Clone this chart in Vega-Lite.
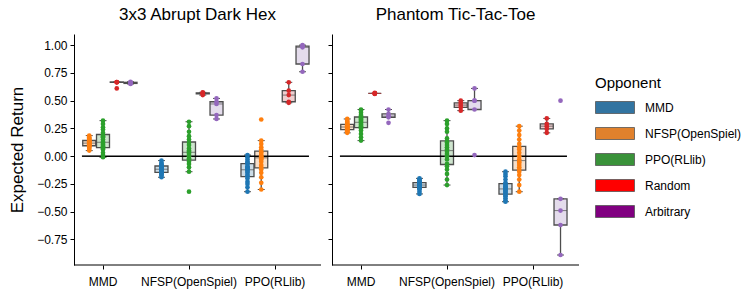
{
  "$schema": "https://vega.github.io/schema/vega-lite/v6.json",
  "padding": {"left": 8, "top": 6, "right": 5, "bottom": 5},
  "background": "white",
  "spacing": -5,
  "config": {
    "font": "Liberation Sans",
    "view": {"stroke": null},
    "axis": {"labelFont": "Liberation Sans", "labelFontSize": 12, "labelColor": "#000", "titleFont": "Liberation Sans", "titleColor": "#000", "titleFontWeight": "normal", "domainColor": "#000", "tickColor": "#000", "grid": false},
    "title": {"font": "Liberation Sans", "fontSize": 17, "fontWeight": "normal", "color": "#000", "baseline": "alphabetic", "offset": 10},
    "legend": {"titleFont": "Liberation Sans", "titleFontSize": 15, "titleFontWeight": "normal", "titleColor": "#000", "labelFont": "Liberation Sans", "labelFontSize": 12, "labelColor": "#000"}
  },
  "datasets": {
    "dh": [
      {"a":"MMD","o":"NFSP(OpenSpiel)","v":0.185},{"a":"MMD","o":"NFSP(OpenSpiel)","v":0.17},{"a":"MMD","o":"NFSP(OpenSpiel)","v":0.16},{"a":"MMD","o":"NFSP(OpenSpiel)","v":0.155},{"a":"MMD","o":"NFSP(OpenSpiel)","v":0.145},{"a":"MMD","o":"NFSP(OpenSpiel)","v":0.14},{"a":"MMD","o":"NFSP(OpenSpiel)","v":0.135},{"a":"MMD","o":"NFSP(OpenSpiel)","v":0.13},{"a":"MMD","o":"NFSP(OpenSpiel)","v":0.125},{"a":"MMD","o":"NFSP(OpenSpiel)","v":0.12},{"a":"MMD","o":"NFSP(OpenSpiel)","v":0.115},{"a":"MMD","o":"NFSP(OpenSpiel)","v":0.11},{"a":"MMD","o":"NFSP(OpenSpiel)","v":0.105},{"a":"MMD","o":"NFSP(OpenSpiel)","v":0.1},{"a":"MMD","o":"NFSP(OpenSpiel)","v":0.095},{"a":"MMD","o":"NFSP(OpenSpiel)","v":0.09},{"a":"MMD","o":"NFSP(OpenSpiel)","v":0.085},{"a":"MMD","o":"NFSP(OpenSpiel)","v":0.075},{"a":"MMD","o":"NFSP(OpenSpiel)","v":0.065},{"a":"MMD","o":"NFSP(OpenSpiel)","v":0.05},
      {"a":"MMD","o":"PPO(RLlib)","v":0.32},{"a":"MMD","o":"PPO(RLlib)","v":0.29},{"a":"MMD","o":"PPO(RLlib)","v":0.26},{"a":"MMD","o":"PPO(RLlib)","v":0.24},{"a":"MMD","o":"PPO(RLlib)","v":0.21},{"a":"MMD","o":"PPO(RLlib)","v":0.19},{"a":"MMD","o":"PPO(RLlib)","v":0.18},{"a":"MMD","o":"PPO(RLlib)","v":0.17},{"a":"MMD","o":"PPO(RLlib)","v":0.15},{"a":"MMD","o":"PPO(RLlib)","v":0.13},{"a":"MMD","o":"PPO(RLlib)","v":0.12},{"a":"MMD","o":"PPO(RLlib)","v":0.11},{"a":"MMD","o":"PPO(RLlib)","v":0.1},{"a":"MMD","o":"PPO(RLlib)","v":0.09},{"a":"MMD","o":"PPO(RLlib)","v":0.08},{"a":"MMD","o":"PPO(RLlib)","v":0.07},{"a":"MMD","o":"PPO(RLlib)","v":0.06},{"a":"MMD","o":"PPO(RLlib)","v":0.03},{"a":"MMD","o":"PPO(RLlib)","v":0.01},{"a":"MMD","o":"PPO(RLlib)","v":-0.01},
      {"a":"MMD","o":"Random","v":0.668},{"a":"MMD","o":"Random","v":0.668},{"a":"MMD","o":"Random","v":0.665},{"a":"MMD","o":"Random","v":0.665},{"a":"MMD","o":"Random","v":0.61},
      {"a":"MMD","o":"Arbitrary","v":0.67},{"a":"MMD","o":"Arbitrary","v":0.665},{"a":"MMD","o":"Arbitrary","v":0.66},{"a":"MMD","o":"Arbitrary","v":0.655},{"a":"MMD","o":"Arbitrary","v":0.65},
      {"a":"NFSP(OpenSpiel)","o":"MMD","v":-0.04},{"a":"NFSP(OpenSpiel)","o":"MMD","v":-0.06},{"a":"NFSP(OpenSpiel)","o":"MMD","v":-0.07},{"a":"NFSP(OpenSpiel)","o":"MMD","v":-0.08},{"a":"NFSP(OpenSpiel)","o":"MMD","v":-0.085},{"a":"NFSP(OpenSpiel)","o":"MMD","v":-0.09},{"a":"NFSP(OpenSpiel)","o":"MMD","v":-0.1},{"a":"NFSP(OpenSpiel)","o":"MMD","v":-0.105},{"a":"NFSP(OpenSpiel)","o":"MMD","v":-0.11},{"a":"NFSP(OpenSpiel)","o":"MMD","v":-0.115},{"a":"NFSP(OpenSpiel)","o":"MMD","v":-0.12},{"a":"NFSP(OpenSpiel)","o":"MMD","v":-0.125},{"a":"NFSP(OpenSpiel)","o":"MMD","v":-0.13},{"a":"NFSP(OpenSpiel)","o":"MMD","v":-0.14},{"a":"NFSP(OpenSpiel)","o":"MMD","v":-0.145},{"a":"NFSP(OpenSpiel)","o":"MMD","v":-0.15},{"a":"NFSP(OpenSpiel)","o":"MMD","v":-0.155},{"a":"NFSP(OpenSpiel)","o":"MMD","v":-0.165},{"a":"NFSP(OpenSpiel)","o":"MMD","v":-0.175},{"a":"NFSP(OpenSpiel)","o":"MMD","v":-0.19},
      {"a":"NFSP(OpenSpiel)","o":"PPO(RLlib)","v":0.31},{"a":"NFSP(OpenSpiel)","o":"PPO(RLlib)","v":0.27},{"a":"NFSP(OpenSpiel)","o":"PPO(RLlib)","v":0.22},{"a":"NFSP(OpenSpiel)","o":"PPO(RLlib)","v":0.18},{"a":"NFSP(OpenSpiel)","o":"PPO(RLlib)","v":0.15},{"a":"NFSP(OpenSpiel)","o":"PPO(RLlib)","v":0.12},{"a":"NFSP(OpenSpiel)","o":"PPO(RLlib)","v":0.1},{"a":"NFSP(OpenSpiel)","o":"PPO(RLlib)","v":0.07},{"a":"NFSP(OpenSpiel)","o":"PPO(RLlib)","v":0.05},{"a":"NFSP(OpenSpiel)","o":"PPO(RLlib)","v":0.04},{"a":"NFSP(OpenSpiel)","o":"PPO(RLlib)","v":0.03},{"a":"NFSP(OpenSpiel)","o":"PPO(RLlib)","v":0.02},{"a":"NFSP(OpenSpiel)","o":"PPO(RLlib)","v":0.0},{"a":"NFSP(OpenSpiel)","o":"PPO(RLlib)","v":-0.02},{"a":"NFSP(OpenSpiel)","o":"PPO(RLlib)","v":-0.03},{"a":"NFSP(OpenSpiel)","o":"PPO(RLlib)","v":-0.05},{"a":"NFSP(OpenSpiel)","o":"PPO(RLlib)","v":-0.07},{"a":"NFSP(OpenSpiel)","o":"PPO(RLlib)","v":-0.1},{"a":"NFSP(OpenSpiel)","o":"PPO(RLlib)","v":-0.14},{"a":"NFSP(OpenSpiel)","o":"PPO(RLlib)","v":-0.32},
      {"a":"NFSP(OpenSpiel)","o":"Random","v":0.575},{"a":"NFSP(OpenSpiel)","o":"Random","v":0.57},{"a":"NFSP(OpenSpiel)","o":"Random","v":0.565},{"a":"NFSP(OpenSpiel)","o":"Random","v":0.56},{"a":"NFSP(OpenSpiel)","o":"Random","v":0.55},
      {"a":"NFSP(OpenSpiel)","o":"Arbitrary","v":0.52},{"a":"NFSP(OpenSpiel)","o":"Arbitrary","v":0.49},{"a":"NFSP(OpenSpiel)","o":"Arbitrary","v":0.47},{"a":"NFSP(OpenSpiel)","o":"Arbitrary","v":0.37},{"a":"NFSP(OpenSpiel)","o":"Arbitrary","v":0.335},
      {"a":"PPO(RLlib)","o":"MMD","v":0.01},{"a":"PPO(RLlib)","o":"MMD","v":-0.01},{"a":"PPO(RLlib)","o":"MMD","v":-0.03},{"a":"PPO(RLlib)","o":"MMD","v":-0.05},{"a":"PPO(RLlib)","o":"MMD","v":-0.06},{"a":"PPO(RLlib)","o":"MMD","v":-0.07},{"a":"PPO(RLlib)","o":"MMD","v":-0.09},{"a":"PPO(RLlib)","o":"MMD","v":-0.1},{"a":"PPO(RLlib)","o":"MMD","v":-0.11},{"a":"PPO(RLlib)","o":"MMD","v":-0.12},{"a":"PPO(RLlib)","o":"MMD","v":-0.125},{"a":"PPO(RLlib)","o":"MMD","v":-0.14},{"a":"PPO(RLlib)","o":"MMD","v":-0.15},{"a":"PPO(RLlib)","o":"MMD","v":-0.17},{"a":"PPO(RLlib)","o":"MMD","v":-0.18},{"a":"PPO(RLlib)","o":"MMD","v":-0.2},{"a":"PPO(RLlib)","o":"MMD","v":-0.23},{"a":"PPO(RLlib)","o":"MMD","v":-0.25},{"a":"PPO(RLlib)","o":"MMD","v":-0.28},{"a":"PPO(RLlib)","o":"MMD","v":-0.32},
      {"a":"PPO(RLlib)","o":"NFSP(OpenSpiel)","v":0.33},{"a":"PPO(RLlib)","o":"NFSP(OpenSpiel)","v":0.14},{"a":"PPO(RLlib)","o":"NFSP(OpenSpiel)","v":0.11},{"a":"PPO(RLlib)","o":"NFSP(OpenSpiel)","v":0.08},{"a":"PPO(RLlib)","o":"NFSP(OpenSpiel)","v":0.06},{"a":"PPO(RLlib)","o":"NFSP(OpenSpiel)","v":0.04},{"a":"PPO(RLlib)","o":"NFSP(OpenSpiel)","v":0.03},{"a":"PPO(RLlib)","o":"NFSP(OpenSpiel)","v":0.01},{"a":"PPO(RLlib)","o":"NFSP(OpenSpiel)","v":0.0},{"a":"PPO(RLlib)","o":"NFSP(OpenSpiel)","v":-0.01},{"a":"PPO(RLlib)","o":"NFSP(OpenSpiel)","v":-0.02},{"a":"PPO(RLlib)","o":"NFSP(OpenSpiel)","v":-0.03},{"a":"PPO(RLlib)","o":"NFSP(OpenSpiel)","v":-0.05},{"a":"PPO(RLlib)","o":"NFSP(OpenSpiel)","v":-0.08},{"a":"PPO(RLlib)","o":"NFSP(OpenSpiel)","v":-0.1},{"a":"PPO(RLlib)","o":"NFSP(OpenSpiel)","v":-0.12},{"a":"PPO(RLlib)","o":"NFSP(OpenSpiel)","v":-0.15},{"a":"PPO(RLlib)","o":"NFSP(OpenSpiel)","v":-0.19},{"a":"PPO(RLlib)","o":"NFSP(OpenSpiel)","v":-0.24},{"a":"PPO(RLlib)","o":"NFSP(OpenSpiel)","v":-0.3},
      {"a":"PPO(RLlib)","o":"Random","v":0.665},{"a":"PPO(RLlib)","o":"Random","v":0.59},{"a":"PPO(RLlib)","o":"Random","v":0.55},{"a":"PPO(RLlib)","o":"Random","v":0.49},{"a":"PPO(RLlib)","o":"Random","v":0.48},
      {"a":"PPO(RLlib)","o":"Arbitrary","v":1.0},{"a":"PPO(RLlib)","o":"Arbitrary","v":0.99},{"a":"PPO(RLlib)","o":"Arbitrary","v":0.98},{"a":"PPO(RLlib)","o":"Arbitrary","v":0.83},{"a":"PPO(RLlib)","o":"Arbitrary","v":0.76}
    ],
    "pt": [
      {"a":"MMD","o":"NFSP(OpenSpiel)","v":0.335},{"a":"MMD","o":"NFSP(OpenSpiel)","v":0.32},{"a":"MMD","o":"NFSP(OpenSpiel)","v":0.31},{"a":"MMD","o":"NFSP(OpenSpiel)","v":0.3},{"a":"MMD","o":"NFSP(OpenSpiel)","v":0.29},{"a":"MMD","o":"NFSP(OpenSpiel)","v":0.285},{"a":"MMD","o":"NFSP(OpenSpiel)","v":0.28},{"a":"MMD","o":"NFSP(OpenSpiel)","v":0.275},{"a":"MMD","o":"NFSP(OpenSpiel)","v":0.27},{"a":"MMD","o":"NFSP(OpenSpiel)","v":0.265},{"a":"MMD","o":"NFSP(OpenSpiel)","v":0.26},{"a":"MMD","o":"NFSP(OpenSpiel)","v":0.255},{"a":"MMD","o":"NFSP(OpenSpiel)","v":0.25},{"a":"MMD","o":"NFSP(OpenSpiel)","v":0.245},{"a":"MMD","o":"NFSP(OpenSpiel)","v":0.24},{"a":"MMD","o":"NFSP(OpenSpiel)","v":0.235},{"a":"MMD","o":"NFSP(OpenSpiel)","v":0.23},{"a":"MMD","o":"NFSP(OpenSpiel)","v":0.225},{"a":"MMD","o":"NFSP(OpenSpiel)","v":0.22},{"a":"MMD","o":"NFSP(OpenSpiel)","v":0.21},
      {"a":"MMD","o":"PPO(RLlib)","v":0.42},{"a":"MMD","o":"PPO(RLlib)","v":0.41},{"a":"MMD","o":"PPO(RLlib)","v":0.39},{"a":"MMD","o":"PPO(RLlib)","v":0.37},{"a":"MMD","o":"PPO(RLlib)","v":0.36},{"a":"MMD","o":"PPO(RLlib)","v":0.35},{"a":"MMD","o":"PPO(RLlib)","v":0.34},{"a":"MMD","o":"PPO(RLlib)","v":0.33},{"a":"MMD","o":"PPO(RLlib)","v":0.32},{"a":"MMD","o":"PPO(RLlib)","v":0.31},{"a":"MMD","o":"PPO(RLlib)","v":0.3},{"a":"MMD","o":"PPO(RLlib)","v":0.29},{"a":"MMD","o":"PPO(RLlib)","v":0.28},{"a":"MMD","o":"PPO(RLlib)","v":0.27},{"a":"MMD","o":"PPO(RLlib)","v":0.26},{"a":"MMD","o":"PPO(RLlib)","v":0.25},{"a":"MMD","o":"PPO(RLlib)","v":0.23},{"a":"MMD","o":"PPO(RLlib)","v":0.2},{"a":"MMD","o":"PPO(RLlib)","v":0.17},{"a":"MMD","o":"PPO(RLlib)","v":0.14},
      {"a":"MMD","o":"Random","v":0.57},{"a":"MMD","o":"Random","v":0.565},{"a":"MMD","o":"Random","v":0.565},{"a":"MMD","o":"Random","v":0.565},{"a":"MMD","o":"Random","v":0.56},
      {"a":"MMD","o":"Arbitrary","v":0.42},{"a":"MMD","o":"Arbitrary","v":0.38},{"a":"MMD","o":"Arbitrary","v":0.36},{"a":"MMD","o":"Arbitrary","v":0.35},{"a":"MMD","o":"Arbitrary","v":0.3},
      {"a":"NFSP(OpenSpiel)","o":"MMD","v":-0.2},{"a":"NFSP(OpenSpiel)","o":"MMD","v":-0.21},{"a":"NFSP(OpenSpiel)","o":"MMD","v":-0.22},{"a":"NFSP(OpenSpiel)","o":"MMD","v":-0.23},{"a":"NFSP(OpenSpiel)","o":"MMD","v":-0.235},{"a":"NFSP(OpenSpiel)","o":"MMD","v":-0.24},{"a":"NFSP(OpenSpiel)","o":"MMD","v":-0.245},{"a":"NFSP(OpenSpiel)","o":"MMD","v":-0.25},{"a":"NFSP(OpenSpiel)","o":"MMD","v":-0.255},{"a":"NFSP(OpenSpiel)","o":"MMD","v":-0.26},{"a":"NFSP(OpenSpiel)","o":"MMD","v":-0.26},{"a":"NFSP(OpenSpiel)","o":"MMD","v":-0.265},{"a":"NFSP(OpenSpiel)","o":"MMD","v":-0.27},{"a":"NFSP(OpenSpiel)","o":"MMD","v":-0.275},{"a":"NFSP(OpenSpiel)","o":"MMD","v":-0.28},{"a":"NFSP(OpenSpiel)","o":"MMD","v":-0.285},{"a":"NFSP(OpenSpiel)","o":"MMD","v":-0.29},{"a":"NFSP(OpenSpiel)","o":"MMD","v":-0.3},{"a":"NFSP(OpenSpiel)","o":"MMD","v":-0.32},{"a":"NFSP(OpenSpiel)","o":"MMD","v":-0.34},
      {"a":"NFSP(OpenSpiel)","o":"PPO(RLlib)","v":0.32},{"a":"NFSP(OpenSpiel)","o":"PPO(RLlib)","v":0.29},{"a":"NFSP(OpenSpiel)","o":"PPO(RLlib)","v":0.25},{"a":"NFSP(OpenSpiel)","o":"PPO(RLlib)","v":0.22},{"a":"NFSP(OpenSpiel)","o":"PPO(RLlib)","v":0.16},{"a":"NFSP(OpenSpiel)","o":"PPO(RLlib)","v":0.13},{"a":"NFSP(OpenSpiel)","o":"PPO(RLlib)","v":0.12},{"a":"NFSP(OpenSpiel)","o":"PPO(RLlib)","v":0.1},{"a":"NFSP(OpenSpiel)","o":"PPO(RLlib)","v":0.08},{"a":"NFSP(OpenSpiel)","o":"PPO(RLlib)","v":0.06},{"a":"NFSP(OpenSpiel)","o":"PPO(RLlib)","v":0.04},{"a":"NFSP(OpenSpiel)","o":"PPO(RLlib)","v":0.02},{"a":"NFSP(OpenSpiel)","o":"PPO(RLlib)","v":0.0},{"a":"NFSP(OpenSpiel)","o":"PPO(RLlib)","v":-0.03},{"a":"NFSP(OpenSpiel)","o":"PPO(RLlib)","v":-0.07},{"a":"NFSP(OpenSpiel)","o":"PPO(RLlib)","v":-0.09},{"a":"NFSP(OpenSpiel)","o":"PPO(RLlib)","v":-0.12},{"a":"NFSP(OpenSpiel)","o":"PPO(RLlib)","v":-0.16},{"a":"NFSP(OpenSpiel)","o":"PPO(RLlib)","v":-0.21},{"a":"NFSP(OpenSpiel)","o":"PPO(RLlib)","v":-0.26},
      {"a":"NFSP(OpenSpiel)","o":"Random","v":0.5},{"a":"NFSP(OpenSpiel)","o":"Random","v":0.48},{"a":"NFSP(OpenSpiel)","o":"Random","v":0.46},{"a":"NFSP(OpenSpiel)","o":"Random","v":0.44},{"a":"NFSP(OpenSpiel)","o":"Random","v":0.41},
      {"a":"NFSP(OpenSpiel)","o":"Arbitrary","v":0.61},{"a":"NFSP(OpenSpiel)","o":"Arbitrary","v":0.5},{"a":"NFSP(OpenSpiel)","o":"Arbitrary","v":0.5},{"a":"NFSP(OpenSpiel)","o":"Arbitrary","v":0.42},{"a":"NFSP(OpenSpiel)","o":"Arbitrary","v":0.01},
      {"a":"PPO(RLlib)","o":"MMD","v":-0.14},{"a":"PPO(RLlib)","o":"MMD","v":-0.16},{"a":"PPO(RLlib)","o":"MMD","v":-0.18},{"a":"PPO(RLlib)","o":"MMD","v":-0.21},{"a":"PPO(RLlib)","o":"MMD","v":-0.24},{"a":"PPO(RLlib)","o":"MMD","v":-0.25},{"a":"PPO(RLlib)","o":"MMD","v":-0.26},{"a":"PPO(RLlib)","o":"MMD","v":-0.27},{"a":"PPO(RLlib)","o":"MMD","v":-0.28},{"a":"PPO(RLlib)","o":"MMD","v":-0.29},{"a":"PPO(RLlib)","o":"MMD","v":-0.3},{"a":"PPO(RLlib)","o":"MMD","v":-0.31},{"a":"PPO(RLlib)","o":"MMD","v":-0.32},{"a":"PPO(RLlib)","o":"MMD","v":-0.33},{"a":"PPO(RLlib)","o":"MMD","v":-0.34},{"a":"PPO(RLlib)","o":"MMD","v":-0.35},{"a":"PPO(RLlib)","o":"MMD","v":-0.36},{"a":"PPO(RLlib)","o":"MMD","v":-0.38},{"a":"PPO(RLlib)","o":"MMD","v":-0.4},{"a":"PPO(RLlib)","o":"MMD","v":-0.41},
      {"a":"PPO(RLlib)","o":"NFSP(OpenSpiel)","v":0.27},{"a":"PPO(RLlib)","o":"NFSP(OpenSpiel)","v":0.23},{"a":"PPO(RLlib)","o":"NFSP(OpenSpiel)","v":0.19},{"a":"PPO(RLlib)","o":"NFSP(OpenSpiel)","v":0.15},{"a":"PPO(RLlib)","o":"NFSP(OpenSpiel)","v":0.11},{"a":"PPO(RLlib)","o":"NFSP(OpenSpiel)","v":0.08},{"a":"PPO(RLlib)","o":"NFSP(OpenSpiel)","v":0.06},{"a":"PPO(RLlib)","o":"NFSP(OpenSpiel)","v":0.03},{"a":"PPO(RLlib)","o":"NFSP(OpenSpiel)","v":0.0},{"a":"PPO(RLlib)","o":"NFSP(OpenSpiel)","v":-0.03},{"a":"PPO(RLlib)","o":"NFSP(OpenSpiel)","v":-0.05},{"a":"PPO(RLlib)","o":"NFSP(OpenSpiel)","v":-0.06},{"a":"PPO(RLlib)","o":"NFSP(OpenSpiel)","v":-0.08},{"a":"PPO(RLlib)","o":"NFSP(OpenSpiel)","v":-0.1},{"a":"PPO(RLlib)","o":"NFSP(OpenSpiel)","v":-0.12},{"a":"PPO(RLlib)","o":"NFSP(OpenSpiel)","v":-0.14},{"a":"PPO(RLlib)","o":"NFSP(OpenSpiel)","v":-0.17},{"a":"PPO(RLlib)","o":"NFSP(OpenSpiel)","v":-0.21},{"a":"PPO(RLlib)","o":"NFSP(OpenSpiel)","v":-0.26},{"a":"PPO(RLlib)","o":"NFSP(OpenSpiel)","v":-0.32},
      {"a":"PPO(RLlib)","o":"Random","v":0.34},{"a":"PPO(RLlib)","o":"Random","v":0.29},{"a":"PPO(RLlib)","o":"Random","v":0.27},{"a":"PPO(RLlib)","o":"Random","v":0.245},{"a":"PPO(RLlib)","o":"Random","v":0.21},
      {"a":"PPO(RLlib)","o":"Arbitrary","v":0.5},{"a":"PPO(RLlib)","o":"Arbitrary","v":-0.384},{"a":"PPO(RLlib)","o":"Arbitrary","v":-0.49},{"a":"PPO(RLlib)","o":"Arbitrary","v":-0.62},{"a":"PPO(RLlib)","o":"Arbitrary","v":-0.89}
    ]
  },
  "hconcat": [
    {
      "title": {"text": "3x3 Abrupt Dark Hex"},
      "width": 247,
      "height": 231,
      "resolve": {"scale": {"color": "independent"}, "legend": {"color": "independent"}},
      "layer": [
        {
          "data": {"name": "dh"},
          "mark": {"type": "boxplot", "extent": 1.5, "outliers": false, "size": 13,
            "box": {"fillOpacity": 0.25, "stroke": "#4d4d4d", "strokeWidth": 1.3},
            "median": {"color": "#4d4d4d", "strokeWidth": 1.3},
            "rule": {"color": "#4d4d4d", "strokeWidth": 1.3},
            "ticks": {"color": "#4d4d4d", "strokeWidth": 1.3, "size": 7}},
          "encoding": {
            "x": {"field": "a", "type": "nominal", "title": null,
              "scale": {"domain": ["MMD", "NFSP(OpenSpiel)", "PPO(RLlib)"], "range": [-14, 244], "paddingInner": 0, "paddingOuter": 0},
              "axis": {"domain": false, "labelAngle": 0, "tickSize": 4, "labelPadding": 7, "bandPosition": 0.5}},
            "xOffset": {"field": "o", "type": "nominal", "scale": {"domain": ["MMD", "NFSP(OpenSpiel)", "PPO(RLlib)", "Random", "Arbitrary"], "paddingInner": 0, "paddingOuter": 0.625}},
            "y": {"field": "v", "type": "quantitative", "title": "Expected Return",
              "scale": {"domain": [-0.98, 1.1], "nice": false, "zero": false},
              "axis": {"values": [-0.75, -0.5, -0.25, 0, 0.25, 0.5, 0.75, 1], "tickCount": 20, "labelOverlap": false, "format": ".2f", "tickSize": 4, "labelPadding": 3, "titlePadding": 10, "titleFontSize": 17}},
            "color": {"field": "o", "type": "nominal", "legend": null,
              "scale": {"domain": ["MMD", "NFSP(OpenSpiel)", "PPO(RLlib)", "Random", "Arbitrary"], "range": ["#3274a1", "#e1812c", "#3a923a", "#c03d3e", "#9372b2"]}}
          }
        },
        {
          "data": {"values": [{}]},
          "mark": {"type": "rule", "color": "#000", "strokeWidth": 1.5},
          "encoding": {
            "x": {"datum": "MMD", "type": "nominal", "bandPosition": 0.255, "title": null},
            "x2": {"datum": "MMD"},
            "y": {"datum": 0, "type": "quantitative", "title": "Expected Return"}
          }
        },
        {
          "data": {"values": [{}]},
          "mark": {"type": "rule", "color": "#000", "strokeWidth": 1.5},
          "encoding": {
            "x": {"datum": "PPO(RLlib)", "type": "nominal", "bandPosition": 0.895, "title": null},
            "x2": {"datum": "MMD"},
            "y": {"datum": 0, "type": "quantitative", "title": "Expected Return"}
          }
        },
        {
          "data": {"values": [{}]},
          "mark": {"type": "rule", "color": "#000", "strokeWidth": 1},
          "encoding": {"y": {"datum": -0.98, "type": "quantitative", "title": "Expected Return"}}
        },
        {
          "data": {"name": "dh"},
          "mark": {"type": "circle", "size": 22, "opacity": 1},
          "encoding": {
            "x": {"field": "a", "type": "nominal", "title": null},
            "xOffset": {"field": "o", "type": "nominal"},
            "y": {"field": "v", "type": "quantitative", "title": "Expected Return"},
            "color": {"field": "o", "type": "nominal", "legend": null,
              "scale": {"domain": ["MMD", "NFSP(OpenSpiel)", "PPO(RLlib)", "Random", "Arbitrary"], "range": ["#1f77b4", "#ff7f0e", "#2ca02c", "#d62728", "#9467bd"]}}
          }
        }
      ]
    },
    {
      "title": {"text": "Phantom Tic-Tac-Toe"},
      "width": 247,
      "height": 231,
      "resolve": {"scale": {"color": "independent"}, "legend": {"color": "independent"}},
      "layer": [
        {
          "data": {"name": "pt"},
          "mark": {"type": "boxplot", "extent": 1.5, "outliers": false, "size": 13,
            "box": {"fillOpacity": 0.25, "stroke": "#4d4d4d", "strokeWidth": 1.3},
            "median": {"color": "#4d4d4d", "strokeWidth": 1.3},
            "rule": {"color": "#4d4d4d", "strokeWidth": 1.3},
            "ticks": {"color": "#4d4d4d", "strokeWidth": 1.3, "size": 7}},
          "encoding": {
            "x": {"field": "a", "type": "nominal", "title": null,
              "scale": {"domain": ["MMD", "NFSP(OpenSpiel)", "PPO(RLlib)"], "range": [-14, 244], "paddingInner": 0, "paddingOuter": 0},
              "axis": {"domain": false, "labelAngle": 0, "tickSize": 4, "labelPadding": 7, "bandPosition": 0.5}},
            "xOffset": {"field": "o", "type": "nominal", "scale": {"domain": ["MMD", "NFSP(OpenSpiel)", "PPO(RLlib)", "Random", "Arbitrary"], "paddingInner": 0, "paddingOuter": 0.625}},
            "y": {"field": "v", "type": "quantitative", "title": null,
              "scale": {"domain": [-0.98, 1.1], "nice": false, "zero": false},
              "axis": {"values": [-0.75, -0.5, -0.25, 0, 0.25, 0.5, 0.75, 1], "tickCount": 20, "labels": false, "tickSize": 4, "minExtent": 0, "maxExtent": 4}},
            "color": {"field": "o", "type": "nominal", "legend": null,
              "scale": {"domain": ["MMD", "NFSP(OpenSpiel)", "PPO(RLlib)", "Random", "Arbitrary"], "range": ["#3274a1", "#e1812c", "#3a923a", "#c03d3e", "#9372b2"]}}
          }
        },
        {
          "data": {"values": [{}]},
          "mark": {"type": "rule", "color": "#000", "strokeWidth": 1.5},
          "encoding": {
            "x": {"datum": "MMD", "type": "nominal", "bandPosition": 0.255, "title": null},
            "x2": {"datum": "MMD"},
            "y": {"datum": 0, "type": "quantitative", "title": null}
          }
        },
        {
          "data": {"values": [{}]},
          "mark": {"type": "rule", "color": "#000", "strokeWidth": 1.5},
          "encoding": {
            "x": {"datum": "PPO(RLlib)", "type": "nominal", "bandPosition": 0.895, "title": null},
            "x2": {"datum": "MMD"},
            "y": {"datum": 0, "type": "quantitative", "title": null}
          }
        },
        {
          "data": {"values": [{}]},
          "mark": {"type": "rule", "color": "#000", "strokeWidth": 1},
          "encoding": {"y": {"datum": -0.98, "type": "quantitative", "title": null}}
        },
        {
          "data": {"name": "pt"},
          "mark": {"type": "circle", "size": 22, "opacity": 1},
          "encoding": {
            "x": {"field": "a", "type": "nominal", "title": null},
            "xOffset": {"field": "o", "type": "nominal"},
            "y": {"field": "v", "type": "quantitative", "title": null},
            "color": {"field": "o", "type": "nominal", "legend": null,
              "scale": {"domain": ["MMD", "NFSP(OpenSpiel)", "PPO(RLlib)", "Random", "Arbitrary"], "range": ["#1f77b4", "#ff7f0e", "#2ca02c", "#d62728", "#9467bd"]}}
          }
        },
        {
          "data": {"name": "pt"},
          "mark": {"type": "point", "filled": true, "opacity": 0},
          "encoding": {
            "x": {"field": "a", "type": "nominal", "title": null},
            "xOffset": {"field": "o", "type": "nominal"},
            "y": {"field": "v", "type": "quantitative", "title": null},
            "color": {"field": "o", "type": "nominal",
              "scale": {"domain": ["MMD", "NFSP(OpenSpiel)", "PPO(RLlib)", "Random", "Arbitrary"], "range": ["#3274a1", "#e1812c", "#3a923a", "#ff0000", "#800080"]},
              "legend": {"title": "Opponent", "orient": "none", "legendX": 263, "legendY": 42,
                "symbolType": "M-1,-1H5.5V1H-1Z", "symbolSize": 144, "symbolOpacity": 1,
                "symbolStrokeColor": "#555", "symbolStrokeWidth": 0.8,
                "labelOffset": 37, "rowPadding": 9, "titlePadding": 10,
                "encode": {"symbols": {"update": {"opacity": {"value": 1}, "stroke": {"value": "#555"}, "strokeWidth": {"value": 0.8}}}}}}
          }
        }
      ]
    }
  ]
}
